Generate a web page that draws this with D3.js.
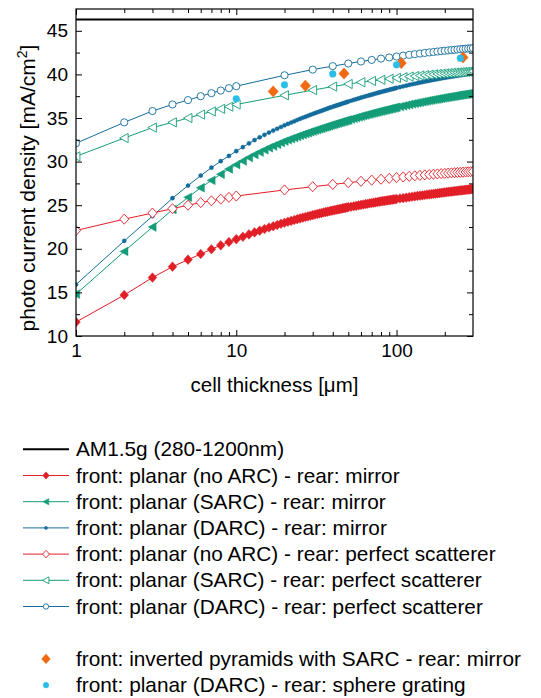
<!DOCTYPE html>
<html>
<head>
<meta charset="utf-8">
<script src="https://cdn.jsdelivr.net/npm/d3@7"></script>
<style>
	body { margin: 0; background: #fff; }
	text { font-family: "Liberation Sans", Arial, sans-serif; }
</style>
</head>
<body>
<div id="chart"></div>
<script>
// photo current density vs. cell thickness

const am15gLimit = 46.3;

// thickness grids [um]
const thickMirror = [1,2,3,4,5,6,7,8,9,10,11,12,13,14,15,16,17,18,19,
	20,21,22,23,24,25,26,27,28,29,30,31,32,33,34,35,36,37,38,39,40,41,42,43,44,45,46,47,48,49,50,
	52,54,56,58,60,62,64,66,68,70,72,74,76,78,80,82,84,86,88,90,92,94,96,98,100,
	105,110,115,120,125,130,135,140,145,150,155,160,165,170,175,180,185,190,195,200,
	205,210,215,220,225,230,235,240,245,250,255,260,265,270,275,280,285,290,295,300];
const thickScatter = [1,2,3,4,5,6,7,8,9,10,20,30,40,50,60,70,80,90,100,110,120,130,140,150,
	160,170,180,190,200,210,220,230,240,250,260,270,280,290,300];

// rear: mirror
const noArcMirror = [11.60,14.70,16.70,17.95,18.75,19.40,19.95,20.40,20.78,21.10,
	21.38,21.65,21.88,22.08,22.27,22.44,22.59,22.73,22.87,
	22.99,23.10,23.20,23.30,23.40,23.49,23.57,23.65,23.72,23.79,23.86,23.93,23.99,24.05,24.10,24.16,
	24.21,24.26,24.31,24.35,24.39,24.44,24.48,24.52,24.55,24.59,24.63,24.67,24.70,24.74,24.77,
	24.82,24.88,24.93,24.98,25.04,25.08,25.13,25.17,25.22,25.25,25.29,25.33,25.37,25.40,
	25.44,25.47,25.50,25.53,25.55,25.58,25.61,25.63,25.66,25.68,25.71,
	25.77,25.82,25.87,25.92,25.97,26.02,26.06,26.10,26.13,26.17,26.21,26.24,26.27,26.30,26.33,26.36,26.39,26.42,26.45,26.47,
	26.50,26.52,26.54,26.56,26.58,26.61,26.63,26.65,26.67,26.69,26.70,26.72,26.74,26.76,26.78,26.79,26.81,26.83,26.84,26.86];
const sarcMirror = [14.80,19.70,22.50,24.50,25.90,27.00,27.85,28.55,29.15,29.65,
	30.07,30.46,30.80,31.08,31.35,31.59,31.79,31.98,32.17,
	32.34,32.48,32.62,32.75,32.88,33.00,33.11,33.21,33.31,33.41,33.50,33.59,33.67,33.75,33.82,33.90,
	33.97,34.04,34.11,34.18,34.24,34.30,34.36,34.42,34.47,34.53,34.58,34.63,34.68,34.73,34.78,
	34.87,34.96,35.04,35.12,35.20,35.27,35.34,35.41,35.47,35.53,35.58,35.64,35.70,35.75,
	35.80,35.85,35.90,35.94,35.98,36.03,36.07,36.11,36.15,36.19,36.23,
	36.31,36.39,36.47,36.55,36.62,36.68,36.74,36.80,36.86,36.91,36.96,37.01,37.06,37.10,37.14,37.18,37.22,37.26,37.30,37.33,
	37.37,37.40,37.43,37.46,37.49,37.52,37.55,37.58,37.61,37.63,37.66,37.68,37.70,37.72,37.75,37.77,37.79,37.81,37.83,37.85];
const darcMirror = [15.90,20.90,23.75,25.80,27.25,28.40,29.30,30.05,30.65,31.20,
	31.66,32.09,32.47,32.78,33.07,33.33,33.56,33.77,33.97,
	34.16,34.32,34.47,34.62,34.77,34.90,35.03,35.14,35.25,35.36,35.46,35.56,35.65,35.74,35.82,35.91,
	35.99,36.07,36.15,36.22,36.29,36.36,36.42,36.48,36.54,36.60,36.66,36.72,36.77,36.83,36.88,
	36.98,37.07,37.16,37.24,37.33,37.41,37.48,37.55,37.62,37.68,37.75,37.81,37.87,37.93,
	37.98,38.04,38.09,38.13,38.18,38.23,38.28,38.32,38.36,38.41,38.45,
	38.54,38.63,38.71,38.79,38.87,38.93,39.00,39.06,39.12,39.18,39.23,39.28,39.33,39.38,39.42,39.46,39.50,39.55,39.59,39.62,
	39.66,39.69,39.72,39.75,39.78,39.81,39.84,39.87,39.90,39.92,39.95,39.97,40.00,40.02,40.04,40.06,40.09,40.11,40.13,40.15];

// rear: perfect scatterer
const noArcScatter = [22.10,23.40,24.10,24.60,25.00,25.30,25.50,25.70,25.90,26.05,
	26.75,27.12,27.38,27.58,27.74,27.87,27.98,28.08,28.17,28.24,28.31,28.37,28.42,28.47,
	28.51,28.55,28.59,28.62,28.65,28.68,28.71,28.73,28.75,28.77,28.79,28.81,28.83,28.85,28.87];
const sarcScatter = [30.60,32.70,33.90,34.50,35.00,35.40,35.75,36.05,36.30,36.55,
	37.60,38.20,38.60,38.90,39.10,39.25,39.38,39.50,39.60,39.68,39.75,39.81,39.87,39.92,
	39.97,40.01,40.05,40.09,40.12,40.15,40.18,40.21,40.23,40.26,40.28,40.30,40.32,40.34,40.36];
const darcScatter = [32.10,34.50,35.80,36.55,37.05,37.50,37.85,38.15,38.42,38.65,
	39.90,40.55,40.95,41.25,41.48,41.66,41.81,41.94,42.05,42.15,42.24,42.32,42.39,42.46,
	42.52,42.57,42.62,42.67,42.71,42.75,42.79,42.82,42.86,42.89,42.92,42.94,42.97,42.99,43.01];

// single simulations
const pyramidThick = [17, 27, 47, 107, 260];
const pyramidVals = [38.05, 38.7, 40.1, 41.3, 41.95];
const gratingThick = [10, 20, 40, 100, 250];
const gratingVals = [37.2, 38.8, 40.05, 41.1, 41.85];

// ticks
const xMajor = [1, 10, 100];
const xMinor = [2,3,4,5,6,7,8,9,20,30,40,50,60,70,80,90,200];
const yMajor = [10, 15, 20, 25, 30, 35, 40, 45];
const yMinor = [12.5, 17.5, 22.5, 27.5, 32.5, 37.5, 42.5];

const red = '#e11f27', teal = '#149d78', blue = '#136c9c', orange = '#ef6a12', cyan = '#2bbde8';

const series = [
	{ name: 'front: planar (no ARC) - rear: mirror', t: thickMirror, v: noArcMirror, color: red, shape: 'diamond', r: 4.4, open: false, line: true },
	{ name: 'front: planar (SARC) - rear: mirror', t: thickMirror, v: sarcMirror, color: teal, shape: 'triangle', r: 4.4, open: false, line: true },
	{ name: 'front: planar (DARC) - rear: mirror', t: thickMirror, v: darcMirror, color: blue, shape: 'circle', r: 2.1, open: false, line: true },
	{ name: 'front: planar (no ARC) - rear: perfect scatterer', t: thickScatter, v: noArcScatter, color: red, shape: 'diamond', r: 4.6, open: true, line: true },
	{ name: 'front: planar (SARC) - rear: perfect scatterer', t: thickScatter, v: sarcScatter, color: teal, shape: 'triangle', r: 4.6, open: true, line: true },
	{ name: 'front: planar (DARC) - rear: perfect scatterer', t: thickScatter, v: darcScatter, color: blue, shape: 'circle', r: 3.6, open: true, line: true },
	{ name: 'front: inverted pyramids with SARC - rear: mirror', t: pyramidThick, v: pyramidVals, color: orange, shape: 'diamond', r: 5.2, open: false, line: false },
	{ name: 'front: planar (DARC) - rear: sphere grating', t: gratingThick, v: gratingVals, color: cyan, shape: 'circle', r: 3.4, open: false, line: false }
];

const W = 541, H = 698;
const plot = { left: 76, right: 473, top: 9, bot: 336 };

const x = d3.scaleLog().domain([1, 300]).range([plot.left, plot.right]);
const y = d3.scaleLinear().domain([10, 47.5]).range([plot.bot, plot.top]);

function markerPath(shape, r) {
	if (shape == 'diamond') return 'M0,' + (-r * 1.1) + 'L' + r + ',0L0,' + (r * 1.1) + 'L' + (-r) + ',0Z';
	if (shape == 'triangle') return 'M' + (-r) + ',0L' + (r * 0.85) + ',' + (-r) + 'L' + (r * 0.85) + ',' + r + 'Z';
	return d3.symbol(d3.symbolCircle, Math.PI * r * r)();
}

const svg = d3.select('#chart').append('svg').attr('width', W).attr('height', H);
svg.append('rect').attr('width', W).attr('height', H).attr('fill', '#fff');

svg.append('defs').append('clipPath').attr('id', 'plotclip')
	.append('rect')
	.attr('x', plot.left).attr('y', plot.top)
	.attr('width', plot.right - plot.left).attr('height', plot.bot - plot.top);

const area = svg.append('g').attr('clip-path', 'url(#plotclip)');

area.append('line')
	.attr('x1', plot.left).attr('x2', plot.right)
	.attr('y1', y(am15gLimit)).attr('y2', y(am15gLimit))
	.attr('stroke', '#000').attr('stroke-width', 2);

const line = d3.line().x(d => x(d[0])).y(d => y(d[1]));

series.forEach(s => {
	const pts = s.t.map((t, i) => [t, s.v[i]]);
	if (s.line) {
		area.append('path').datum(pts)
			.attr('d', line)
			.attr('fill', 'none')
			.attr('stroke', s.color)
			.attr('stroke-width', 1);
	}
	area.append('g').selectAll('path')
		.data(pts)
		.enter()
		.append('path')
		.attr('transform', d => 'translate(' + x(d[0]) + ',' + y(d[1]) + ')')
		.attr('d', markerPath(s.shape, s.r))
		.attr('fill', s.open ? '#fff' : s.color)
		.attr('stroke', s.color)
		.attr('stroke-width', s.open ? 0.9 : 0.4);
});

// axes, ticks pointing inwards
function styleAxis(g, fs) {
	g.select('.domain').remove();
	g.selectAll('line').attr('stroke', '#000');
	g.selectAll('text').attr('fill', '#000').attr('font-size', fs)
		.attr('font-family', '"Liberation Sans", Arial, sans-serif');
}

const fmt = d3.format('d');
svg.append('g').attr('transform', 'translate(0,' + plot.bot + ')')
	.call(d3.axisBottom(x).tickValues(xMajor).tickSize(-6).tickPadding(8).tickFormat(fmt))
	.call(g => styleAxis(g, 19));
svg.append('g').attr('transform', 'translate(0,' + plot.bot + ')')
	.call(d3.axisBottom(x).tickValues(xMinor).tickSize(-4).tickFormat(''))
	.call(g => styleAxis(g, 19));
svg.append('g').attr('transform', 'translate(0,' + plot.top + ')')
	.call(d3.axisTop(x).tickValues(xMajor).tickSize(-6).tickFormat(''))
	.call(g => styleAxis(g, 19));
svg.append('g').attr('transform', 'translate(0,' + plot.top + ')')
	.call(d3.axisTop(x).tickValues(xMinor).tickSize(-4).tickFormat(''))
	.call(g => styleAxis(g, 19));

svg.append('g').attr('transform', 'translate(' + plot.left + ',0)')
	.call(d3.axisLeft(y).tickValues(yMajor).tickSize(-6).tickPadding(8).tickFormat(fmt))
	.call(g => styleAxis(g, 19));
svg.append('g').attr('transform', 'translate(' + plot.left + ',0)')
	.call(d3.axisLeft(y).tickValues(yMinor).tickSize(-4).tickFormat(''))
	.call(g => styleAxis(g, 19));
svg.append('g').attr('transform', 'translate(' + plot.right + ',0)')
	.call(d3.axisRight(y).tickValues(yMajor).tickSize(-6).tickFormat(''))
	.call(g => styleAxis(g, 19));
svg.append('g').attr('transform', 'translate(' + plot.right + ',0)')
	.call(d3.axisRight(y).tickValues(yMinor).tickSize(-4).tickFormat(''))
	.call(g => styleAxis(g, 19));

svg.append('rect')
	.attr('x', plot.left).attr('y', plot.top)
	.attr('width', plot.right - plot.left).attr('height', plot.bot - plot.top)
	.attr('fill', 'none').attr('stroke', '#000').attr('stroke-width', 1.2);

// axis titles
svg.append('text')
	.attr('x', (plot.left + plot.right) / 2).attr('y', 392)
	.attr('text-anchor', 'middle').attr('font-size', 20.5)
	.text('cell thickness [\u03bcm]');

const ytitle = svg.append('text')
	.attr('transform', 'translate(35,188) rotate(-90)')
	.attr('text-anchor', 'middle').attr('font-size', 21);
ytitle.append('tspan').text('photo current density [mA/cm');
ytitle.append('tspan').attr('dy', -8).attr('font-size', 14).text('2');
ytitle.append('tspan').attr('dy', 8).text(']');

// legend
const leg = { x0: 23, x1: 69, tx: 76, y0: 449.3, step: 26.2 };
const legRows = [{ name: 'AM1.5g (280-1200nm)', row: 0 }]
	.concat(series.map((s, i) => Object.assign({}, s, { row: i < 6 ? i + 1 : i + 2 })));

legRows.forEach(d => {
	const ly = leg.y0 + d.row * leg.step;
	const g = svg.append('g');
	if (!d.color) {
		g.append('line').attr('x1', leg.x0).attr('x2', leg.x1).attr('y1', ly).attr('y2', ly)
			.attr('stroke', '#000').attr('stroke-width', 2);
	} else {
		if (d.line) {
			g.append('line').attr('x1', leg.x0).attr('x2', leg.x1).attr('y1', ly).attr('y2', ly)
				.attr('stroke', d.color).attr('stroke-width', 1);
		}
		let k = d.line ? 0.75 : 0.85;
		g.append('path')
			.attr('transform', 'translate(' + (leg.x0 + leg.x1) / 2 + ',' + ly + ')')
			.attr('d', markerPath(d.shape, d.r * k))
			.attr('fill', d.open ? '#fff' : d.color)
			.attr('stroke', d.color)
			.attr('stroke-width', d.open ? 0.9 : 0.4);
	}
	g.append('text').attr('x', leg.tx).attr('y', ly + 7).attr('font-size', 20.8).attr('fill', '#000').text(d.name);
});
</script>
</body>
</html>
